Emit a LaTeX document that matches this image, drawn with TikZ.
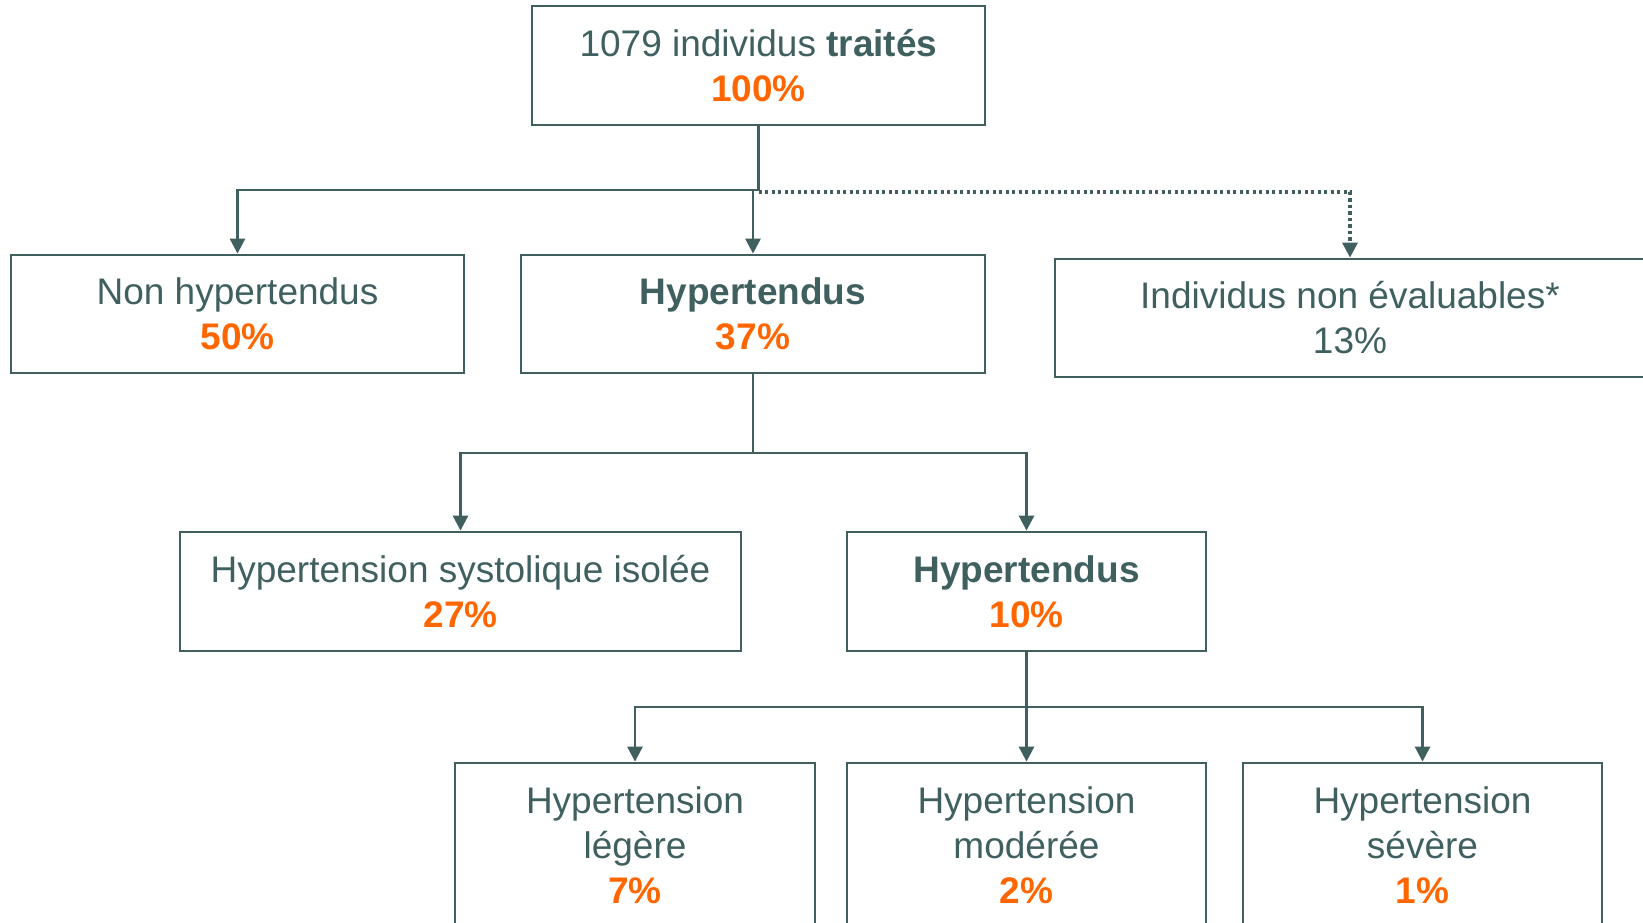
\documentclass[tikz,border=0pt]{standalone}
\usepackage{fontspec}
\setmainfont{Liberation Sans}
\usetikzlibrary{arrows.meta,calc}
\definecolor{ink}{RGB}{64,96,96}
\definecolor{accent}{RGB}{255,102,0}
\tikzset{
  box/.style={draw=ink, line width=2.8pt, text=ink, align=center, inner sep=0pt,
    font=\fontsize{37}{45}\selectfont},
  conn/.style={draw=ink, line width=2.8pt},
  arr/.style={conn, -{Triangle[width=15pt,length=15pt]}},
  dotconn/.style={arr, line width=3.2pt, dash pattern=on 3.2pt off 3.3pt},
}
\newcommand{\pct}[1]{\textcolor{accent}{\textbf{#1}}}
\begin{document}
\begin{tikzpicture}[x=1pt,y=-1pt]
\useasboundingbox (0,0) rectangle (1643,923);
\clip (0,0) rectangle (1643,923);
% level 0
\node[box, minimum width=453pt, minimum height=119pt] (top) at (758.5,65.5)
  {1079 individus \textbf{traités}\\ \pct{100\%}};
% level 1
\node[box, minimum width=453pt, minimum height=118pt] (nonhyp) at (237.5,314)
  {Non hypertendus\\ \pct{50\%}};
\node[box, minimum width=464pt, minimum height=118pt] (hyp1) at (753,314)
  {\textbf{Hypertendus}\\ \pct{37\%}};
\node[box, minimum width=590pt, minimum height=118pt] (noneval) at (1350,318)
  {Individus non évaluables*\\ 13\%};
% level 2
\node[box, minimum width=561pt, minimum height=119pt] (hsi) at (460.5,591.5)
  {Hypertension systolique isolée\\ \pct{27\%}};
\node[box, minimum width=359pt, minimum height=119pt] (hyp2) at (1026.5,591.5)
  {\textbf{Hypertendus}\\ \pct{10\%}};
% level 3
\node[box, minimum width=360pt, minimum height=164pt] (leg) at (635,845)
  {Hypertension\\ légère\\ \pct{7\%}};
\node[box, minimum width=359pt, minimum height=164pt] (mod) at (1026.5,845)
  {Hypertension\\ modérée\\ \pct{2\%}};
\node[box, minimum width=359pt, minimum height=164pt] (sev) at (1422.5,845)
  {Hypertension\\ sévère\\ \pct{1\%}};
% junctions
\coordinate (j1) at (758.5,190);
\coordinate (j2) at (753,453);
\coordinate (j3) at (1026.5,707);
% connectors level 1
\draw[conn] (top.south) -- (j1);
\draw[arr] (j1) -| (nonhyp.north);
\draw[arr] (j1 -| hyp1.north) -- (hyp1.north);
\draw[dotconn] ($(j1)+(0,2)$) -| (noneval.north);
% connectors level 2
\draw[conn] (hyp1.south) -- (j2);
\draw[arr] (j2) -| (hsi.north);
\draw[arr] (j2) -| (hyp2.north);
% connectors level 3
\draw[conn] (hyp2.south) -- (j3);
\draw[arr] (j3) -| (leg.north);
\draw[arr] (j3) -- (mod.north);
\draw[arr] (j3) -| (sev.north);
\end{tikzpicture}
\end{document}
